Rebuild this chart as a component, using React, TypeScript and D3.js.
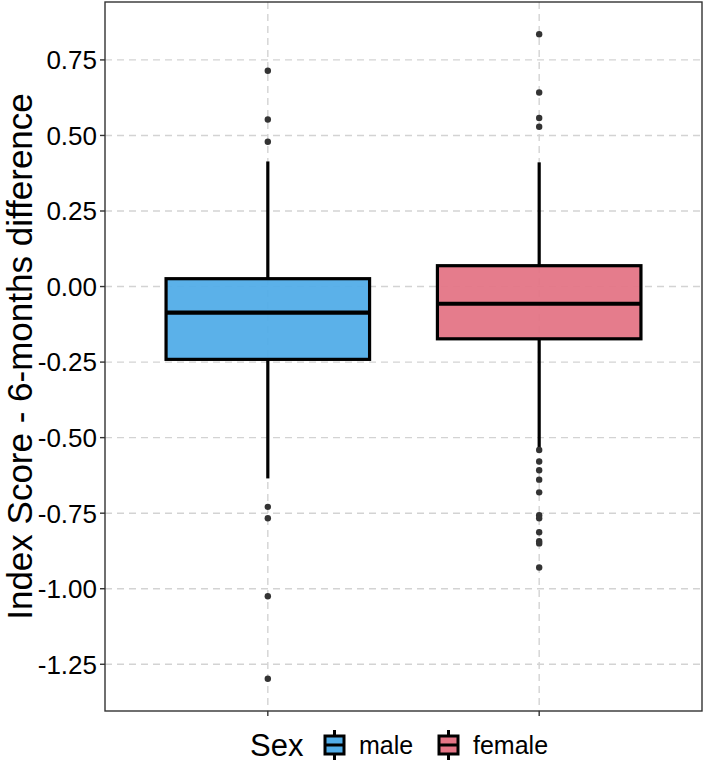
import React from 'react';
import * as d3 from 'd3';

// box statistics
const categories = ['male', 'female'];
const lowerWhisker = [-0.635, -0.539];
const q1 = [-0.241, -0.173];
const median = [-0.086, -0.057];
const q3 = [0.026, 0.069];
const upperWhisker = [0.414, 0.411];
const maleOutliers = [0.714, 0.553, 0.479, -0.729, -0.767, -1.025, -1.298];
const femaleOutliers = [0.835, 0.642, 0.558, 0.529, -0.541, -0.579, -0.608, -0.639, -0.681, -0.757, -0.767, -0.813, -0.843, -0.85, -0.93];
const yTicks = [0.75, 0.5, 0.25, 0, -0.25, -0.5, -0.75, -1.0, -1.25];
const fills = ['#52ADE8', '#E47586'];

const W = 706;
const H = 774;
const panel = { left: 105, right: 702, top: 2, bottom: 711 };
const FONT = 'Arial, "Liberation Sans", sans-serif';

const App: React.FC = () => {
  const outliers = [maleOutliers, femaleOutliers];
  const all = [...maleOutliers, ...femaleOutliers, ...lowerWhisker, ...upperWhisker];
  const [lo, hi] = d3.extent(all) as [number, number];
  const pad = (hi - lo) * 0.05;

  const y = d3.scaleLinear().domain([lo - pad, hi + pad]).range([panel.bottom, panel.top]);
  // discrete axis with ggplot's 0.6 expansion
  const x = d3.scaleLinear().domain([0.4, 2.6]).range([panel.left, panel.right]);
  const halfBox = x(1.375) - x(1);
  const fmt = (v: number) => d3.format('.2f')(v).replace('\u2212', '-');

  const grid = '#D3D3D3';

  // legend layout
  const legendY = 745;
  const keyW = 25;
  const sexX = 250;
  const key1 = 322;
  const key2 = 436;

  const legendKey = (kx: number, fill: string) => (
    <g>
      <line x1={kx + keyW / 2} x2={kx + keyW / 2} y1={legendY - 15} y2={legendY + 15} stroke="#000" strokeWidth={3} />
      <rect x={kx + 3} y={legendY - 9} width={keyW - 6} height={18} fill={fill} stroke="#000" strokeWidth={3} />
      <line x1={kx + 3} x2={kx + keyW - 3} y1={legendY} y2={legendY} stroke="#000" strokeWidth={3} />
    </g>
  );

  return (
    <svg width={W} height={H} style={{ position: 'absolute', left: 0, top: 0, background: '#fff' }} fontFamily={FONT}>
      <rect width={W} height={H} fill="#fff" />
      {/* grid */}
      {yTicks.map(t => (
        <line key={t} x1={panel.left} x2={panel.right} y1={y(t)} y2={y(t)} stroke={grid} strokeWidth={1.4} strokeDasharray="7,5" />
      ))}
      {categories.map((c, i) => (
        <line key={c} x1={x(i + 1)} x2={x(i + 1)} y1={panel.top} y2={panel.bottom} stroke={grid} strokeWidth={1.4} strokeDasharray="7,5" />
      ))}

      {/* boxes */}
      {categories.map((c, i) => {
        const cx = x(i + 1);
        return (
          <g key={c}>
            <line x1={cx} x2={cx} y1={y(upperWhisker[i])} y2={y(q3[i])} stroke="#000" strokeWidth={3.2} />
            <line x1={cx} x2={cx} y1={y(q1[i])} y2={y(lowerWhisker[i])} stroke="#000" strokeWidth={3.2} />
            <rect x={cx - halfBox} y={y(q3[i])} width={halfBox * 2} height={y(q1[i]) - y(q3[i])}
              fill={fills[i]} fillOpacity={0.95} stroke="#000" strokeWidth={3.2} />
            <line x1={cx - halfBox} x2={cx + halfBox} y1={y(median[i])} y2={y(median[i])} stroke="#000" strokeWidth={4.2} />
            {outliers[i].map((v, j) => (
              <circle key={j} cx={cx} cy={y(v)} r={3.2} fill="#333" />
            ))}
          </g>
        );
      })}

      {/* panel border */}
      <rect x={panel.left} y={panel.top} width={panel.right - panel.left} height={panel.bottom - panel.top}
        fill="none" stroke="#333" strokeWidth={1.4} />

      {/* y axis */}
      {yTicks.map(t => (
        <g key={t}>
          <line x1={panel.left - 5} x2={panel.left} y1={y(t)} y2={y(t)} stroke="#333" strokeWidth={1.4} />
          <text x={panel.left - 8} y={y(t)} dy="0.36em" textAnchor="end" fontSize={26} fill="#000">
            {fmt(t)}
          </text>
        </g>
      ))}
      {/* x axis ticks (labels are blank) */}
      {categories.map((c, i) => (
        <line key={c} x1={x(i + 1)} x2={x(i + 1)} y1={panel.bottom} y2={panel.bottom + 5} stroke="#333" strokeWidth={1.4} />
      ))}

      <text transform={`translate(32,${(panel.top + panel.bottom) / 2}) rotate(-90)`} textAnchor="middle" fontSize={35} fill="#000">
        Index Score - 6-months difference
      </text>

      {/* legend */}
      <text x={sexX} y={legendY} dy="0.36em" fontSize={31} fill="#000">Sex</text>
      {legendKey(key1, fills[0])}
      <text x={key1 + keyW + 12} y={legendY} dy="0.36em" fontSize={25} fill="#000">male</text>
      {legendKey(key2, fills[1])}
      <text x={key2 + keyW + 12} y={legendY} dy="0.36em" fontSize={25} fill="#000">female</text>
    </svg>
  );
};

export default App;
